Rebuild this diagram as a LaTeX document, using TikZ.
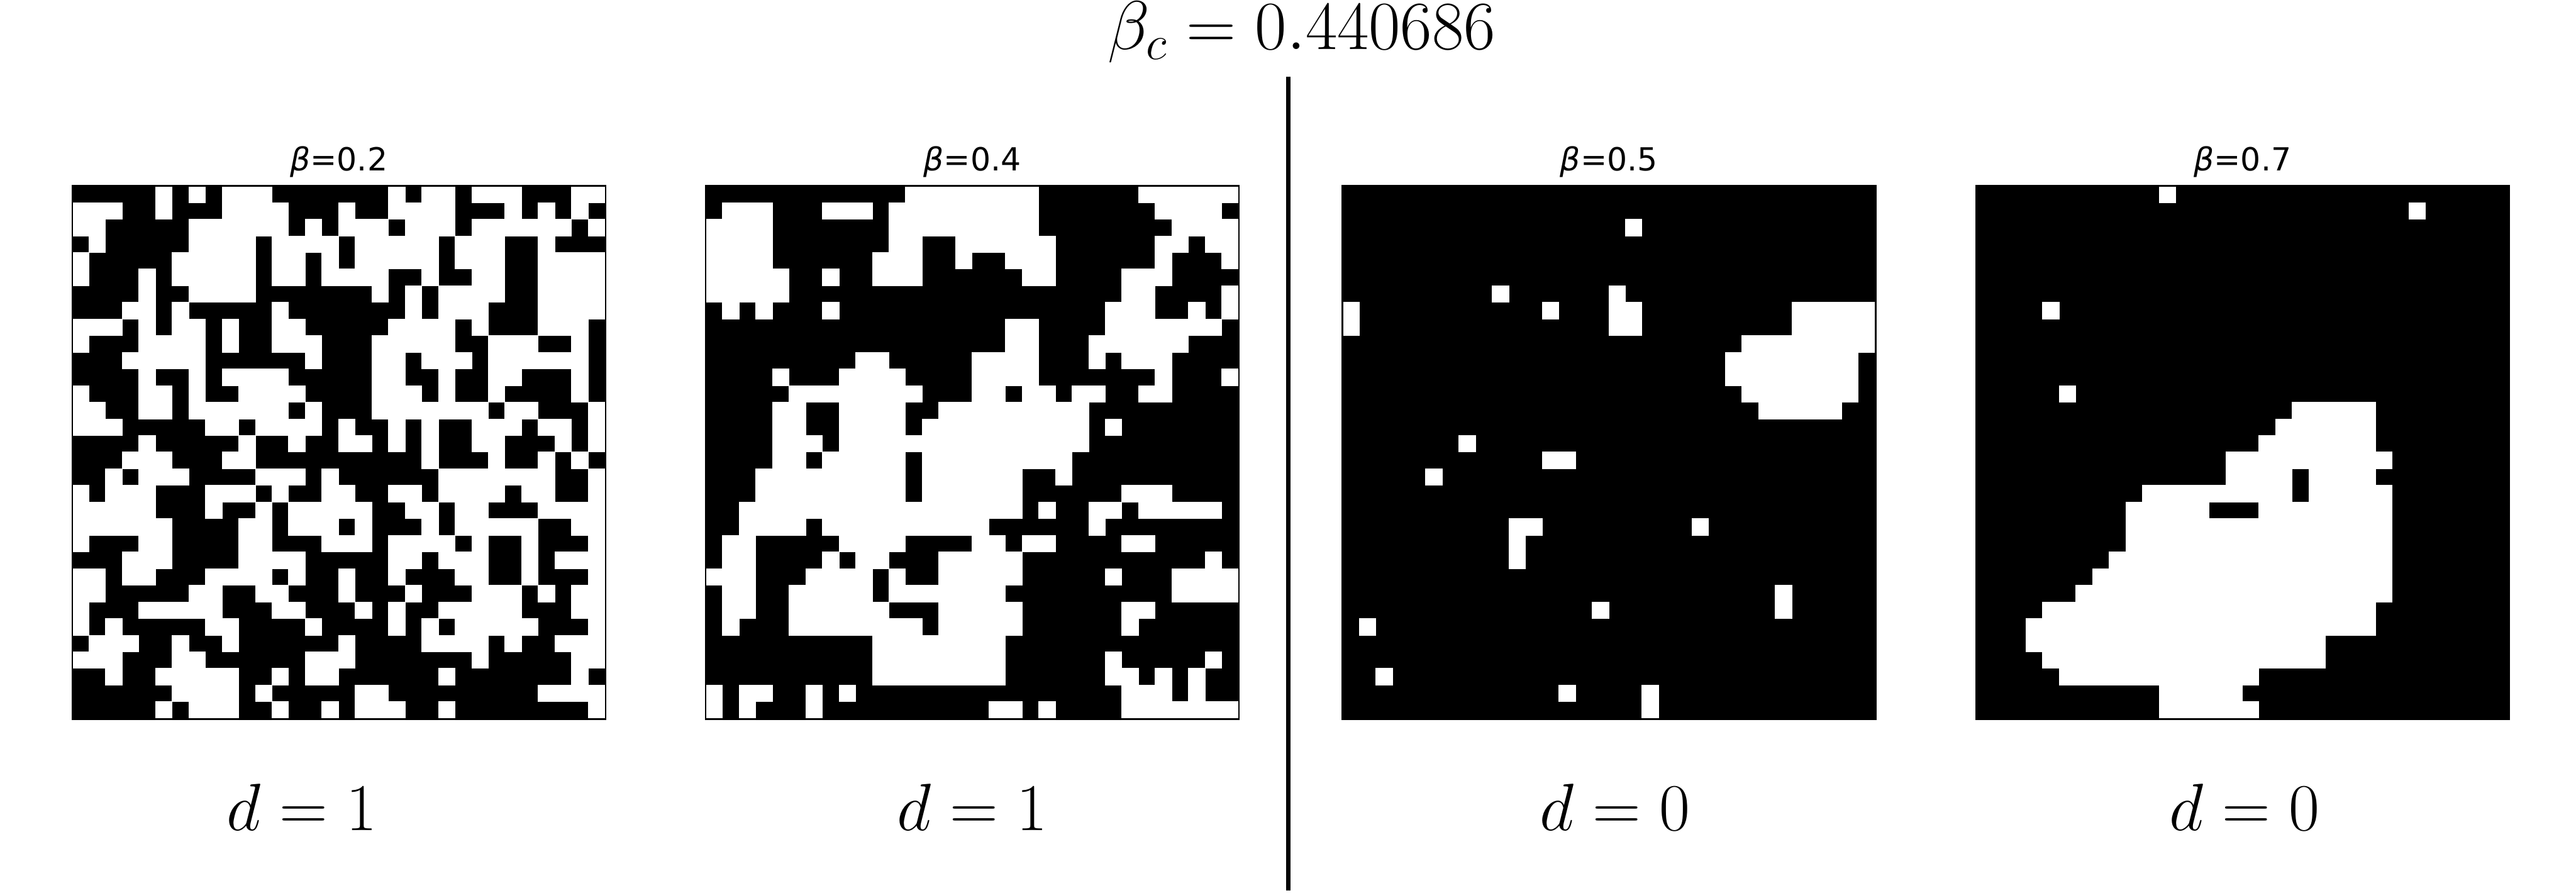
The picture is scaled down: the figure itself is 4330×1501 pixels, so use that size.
\documentclass[tikz,border=0pt]{standalone}
\usepackage{fix-cm}
\usepackage{fontspec}
\newfontfamily\mplfont{DejaVu Sans}
\usepackage{tikz}
\usetikzlibrary{positioning}

% size of one lattice site (32 x 32 sites per panel)
\newcommand{\cellsize}{2.797mm}
% white sites of a panel: row/{first/last, ...} runs of white columns
\newcommand{\whitecells}[2]{%
  \begin{scope}[shift={(#1.north west)}, x=\cellsize, y=-\cellsize]
    \foreach \r/\runs in {#2} {
      \foreach \a/\b in \runs {\fill[cell] (\a,\r) rectangle (\b+1,\r+1);}
    }
  \end{scope}
  \draw[frame] (#1.south west) rectangle (#1.north east);
}

\begin{document}
\begin{tikzpicture}[
  x=0.1mm, y=0.1mm,
  lattice/.style={rectangle, fill=black, minimum size=89.5mm, inner sep=0pt},
  frame/.style={draw=black, line width=0.25mm},
  cell/.style={fill=white, draw=white, line width=0.05mm},
  btitle/.style={font=\mplfont\fontsize{15.2}{18}\selectfont, inner sep=0pt},
  dlabel/.style={font=\fontsize{32}{38}\selectfont, inner sep=0pt},
  divider/.style={draw=black, line width=0.7mm}
]
  \path[use as bounding box, fill=white] (0,0) rectangle (4330,1501);

  % Lattices
  \node[lattice] (p1) at (569.5,740.5) {};
  \node[lattice] (p2) at (1634.5,740.5) {};
  \node[lattice] (p3) at (2704.5,740.5) {};
  \node[lattice] (p4) at (3769.5,740.5) {};

  % beta = 0.2
  \whitecells{p1}{
    0/{5/5,7/7,9/11,19/19,21/22,24/26,30/31},
    1/{0/2,5/5,9/12,16/16,19/22,26/26,28/28,30/30},
    2/{0/1,7/12,14/14,16/18,20/22,24/29,31/31},
    3/{1/1,7/10,12/15,17/21,23/25,28/28},
    4/{0/0,6/10,12/13,15/15,17/21,23/25,28/31},
    5/{0/0,4/4,6/10,12/13,15/18,21/21,24/25,28/31},
    6/{4/4,7/10,18/18,20/20,22/25,28/31},
    7/{3/4,6/6,12/12,20/20,22/24,28/31},
    8/{0/2,4/4,6/7,9/9,12/13,19/22,24/24,28/30},
    9/{0/0,4/7,9/9,12/14,18/22,25/27,30/30},
    10/{3/7,14/14,18/19,21/23,25/30},
    11/{4/4,7/7,9/12,18/19,22/22,25/26,30/30},
    12/{0/0,4/5,7/7,10/13,18/20,22/22,25/25,30/30},
    13/{0/1,4/5,7/12,14/14,18/24,26/27,31/31},
    14/{0/2,8/9,11/14,16/16,19/19,21/21,24/26,28/29,31/31},
    15/{4/4,10/10,13/13,16/17,19/19,21/21,24/25,29/29,31/31},
    16/{3/5,9/10,21/21,25/25,28/28,30/30},
    17/{2/2,4/6,11/13,15/15,22/28,31/31},
    18/{0/0,2/4,8/10,12/12,15/16,19/20,22/25,27/28,31/31},
    19/{0/4,8/8,11/11,13/17,20/21,23/24,28/31},
    20/{0/5,10/11,13/15,17/17,21/21,23/27,30/31},
    21/{0/0,4/5,10/11,15/17,19/22,24/24,27/27,31/31},
    22/{3/5,10/13,19/20,22/24,27/27,29/31},
    23/{0/1,3/4,8/11,13/13,16/16,19/19,23/24,27/27,31/31},
    24/{0/1,7/8,11/12,16/16,20/20,24/26,28/28,30/31},
    25/{0/0,4/8,12/13,17/17,19/19,22/26,30/31},
    26/{0/0,2/2,8/9,14/14,19/19,21/21,23/27,31/31},
    27/{1/3,6/6,9/9,16/16,21/24,26/26,29/31},
    28/{0/2,6/7,14/16,24/24,30/31},
    29/{2/2,5/9,12/12,14/15,22/22,30/30},
    30/{6/9,11/11,17/18,28/31},
    31/{5/5,7/9,12/12,15/15,17/19,22/22,31/31}}

  % beta = 0.4
  \whitecells{p2}{
    0/{12/19,26/31},
    1/{1/3,7/9,11/19,27/30},
    2/{0/3,11/19,28/31},
    3/{0/3,11/12,15/20,27/28,30/31},
    4/{0/3,10/12,15/15,18/20,27/27,31/31},
    5/{0/4,7/7,10/12,19/20,25/27},
    6/{0/4,25/26,31/31},
    7/{1/1,3/3,7/7,24/26,29/29,31/31},
    8/{18/19,24/30},
    9/{18/19,23/28},
    10/{9/10,16/19,23/23,25/27},
    11/{4/4,8/11,16/19,27/27,31/31},
    12/{5/12,16/17,19/20,22/23,26/27},
    13/{4/5,8/11,14/22},
    14/{4/5,8/11,13/22,24/24},
    15/{4/6,8/22},
    16/{4/5,7/11,13/21},
    17/{3/11,13/18,21/21},
    18/{3/11,13/18,25/27},
    19/{2/18,20/20,23/24,26/30},
    20/{2/5,7/16,23/23},
    21/{1/2,8/11,16/17,19/20,25/26},
    22/{1/2,7/7,9/10,14/18,30/30},
    23/{0/2,6/9,11/11,14/18,24/24,28/31},
    24/{1/2,5/9,11/17,28/31},
    25/{1/2,5/10,14/18,25/26},
    26/{1/1,5/12,14/18,25/25},
    27/{10/17},
    28/{10/17,24/24,30/30},
    29/{10/17,24/25,27/27,29/29},
    30/{0/0,2/3,6/6,8/8,25/27,29/29},
    31/{0/0,2/2,6/6,17/18,20/20,25/31}}

  % beta = 0.5
  \whitecells{p3}{
    2/{17/17}, 6/{9/9,16/16}, 7/{0/0,12/12,16/17,27/31},
    8/{0/0,16/17,27/31}, 9/{24/31}, 10/{23/30}, 11/{23/30},
    12/{24/30}, 13/{25/29}, 15/{7/7}, 16/{12/13}, 17/{5/5},
    20/{10/11,21/21}, 21/{10/10}, 22/{10/10}, 24/{26/26},
    25/{15/15,26/26}, 26/{1/1}, 29/{2/2}, 30/{13/13,18/18}, 31/{18/18}}

  % beta = 0.7
  \whitecells{p4}{
    0/{11/11}, 1/{26/26}, 7/{4/4}, 12/{5/5},
    13/{19/23}, 14/{18/23}, 15/{17/23}, 16/{15/24},
    17/{15/18,20/23}, 18/{10/18,20/24}, 19/{9/13,17/24},
    20/{9/24}, 21/{9/24}, 22/{8/24}, 23/{7/24}, 24/{6/24},
    25/{4/23}, 26/{3/23}, 27/{3/20}, 28/{4/20}, 29/{5/16},
    30/{11/15}, 31/{11/16}}

  % Panel titles
  \node[btitle, above=2.5mm of p1.north, anchor=base] (t1) {{\itshape β}=0.2};
  \node[btitle, above=2.5mm of p2.north, anchor=base] (t2) {{\itshape β}=0.4};
  \node[btitle, above=2.5mm of p3.north, anchor=base] (t3) {{\itshape β}=0.5};
  \node[btitle, above=2.5mm of p4.north, anchor=base] (t4) {{\itshape β}=0.7};

  % Dimension labels
  \node[dlabel, below=18.7mm of p1.south, anchor=base, xshift=-6.2mm] (d1) {$d = 1$};
  \node[dlabel, below=18.7mm of p2.south, anchor=base] (d2) {$d = 1$};
  \node[dlabel, below=18.7mm of p3.south, anchor=base, xshift=1mm] (d3) {$d = 0$};
  \node[dlabel, below=18.7mm of p4.south, anchor=base, xshift=0.3mm] (d4) {$d = 0$};

  % Critical temperature
  \node[dlabel, font=\fontsize{33}{38}\selectfont, anchor=base] (bc) at (2188,1418) {$\beta_c = 0.440686$};
  \coordinate (ctop) at (2165.5,1372);
  \coordinate (cbot) at (2165.5,4);
  \draw[divider] (ctop) -- (cbot);
\end{tikzpicture}
\end{document}
